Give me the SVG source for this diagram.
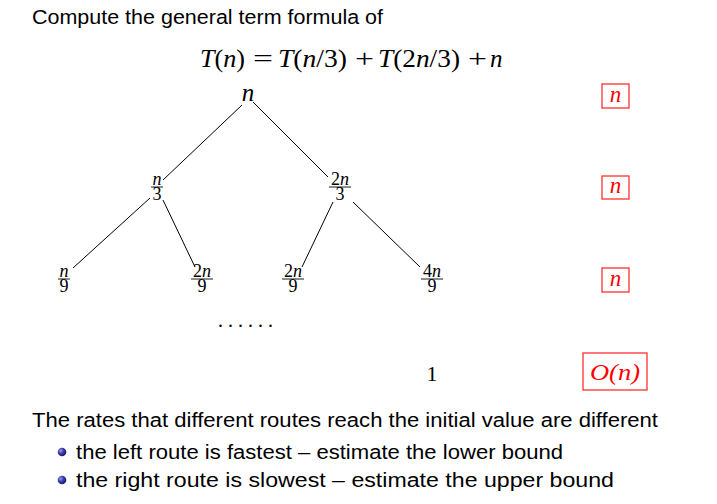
<svg xmlns="http://www.w3.org/2000/svg" width="717" height="504" viewBox="0 0 717 504">
<defs>
<radialGradient id="ball" cx="0.35" cy="0.35" r="0.7">
<stop offset="0" stop-color="#9a9ae6"/>
<stop offset="0.5" stop-color="#3b3ba8"/>
<stop offset="1" stop-color="#1a1a5a"/>
</radialGradient>
</defs>
<style>
.sans{font-family:"Liberation Sans",Arial,sans-serif;font-size:20px;fill:#000}
.m{font-family:"Liberation Serif","Times New Roman",serif;fill:#000}
.eq{font-size:25px}
.i{font-style:italic}
.fr{font-size:18px;text-anchor:middle}
.edge{stroke:#000;stroke-width:1;fill:none}
.bar{stroke:#000;stroke-width:0.9}
.box{fill:none;stroke:#ff3030;stroke-width:1.3}
.red{fill:#ff0000;font-family:"Liberation Serif","Times New Roman",serif;font-style:italic;text-anchor:middle}
</style>
<rect width="717" height="504" fill="#fff"/>
<text class="sans" x="32" y="24" textLength="351" lengthAdjust="spacingAndGlyphs">Compute the general term formula of</text>
<g id="equation">
<text class="m eq" x="200" y="67" textLength="45" lengthAdjust="spacingAndGlyphs"><tspan class="i">T</tspan>(<tspan class="i">n</tspan>)</text>
<text class="m eq" x="253" y="67" textLength="20" lengthAdjust="spacingAndGlyphs">=</text>
<text class="m eq" x="278" y="67" textLength="69" lengthAdjust="spacingAndGlyphs"><tspan class="i">T</tspan>(<tspan class="i">n</tspan>/3)</text>
<text class="m eq" x="355" y="67" textLength="19" lengthAdjust="spacingAndGlyphs">+</text>
<text class="m eq" x="378" y="67" textLength="82" lengthAdjust="spacingAndGlyphs"><tspan class="i">T</tspan>(2<tspan class="i">n</tspan>/3)</text>
<text class="m eq" x="468" y="67" textLength="19" lengthAdjust="spacingAndGlyphs">+</text>
<text class="m eq i" x="490" y="67">n</text>
</g>
<g id="connectors">
<line class="edge" x1="242" y1="105" x2="163" y2="180"/>
<line class="edge" x1="253" y1="102" x2="328" y2="177"/>
<line class="edge" x1="150" y1="198" x2="73" y2="268"/>
<line class="edge" x1="163" y1="200" x2="195" y2="267"/>
<line class="edge" x1="333" y1="202" x2="302" y2="267"/>
<line class="edge" x1="353" y1="202" x2="420" y2="267"/>
</g>
<g id="root"><text class="m i" x="248" y="101" font-size="25" text-anchor="middle">n</text></g>
<g id="n3">
<text class="m i fr" x="157" y="185">n</text>
<line class="bar" x1="151" y1="187" x2="163" y2="187"/>
<text class="m fr" x="157" y="200">3</text>
</g>
<g id="n23">
<text class="m fr" x="340" y="185">2<tspan class="i">n</tspan></text>
<line class="bar" x1="329" y1="187" x2="351" y2="187"/>
<text class="m fr" x="340" y="200">3</text>
</g>
<g id="n9">
<text class="m i fr" x="64" y="277">n</text>
<line class="bar" x1="58" y1="279" x2="70" y2="279"/>
<text class="m fr" x="64" y="292">9</text>
</g>
<g id="n29a">
<text class="m fr" x="202" y="277">2<tspan class="i">n</tspan></text>
<line class="bar" x1="191" y1="279" x2="213" y2="279"/>
<text class="m fr" x="202" y="292">9</text>
</g>
<g id="n29b">
<text class="m fr" x="293" y="277">2<tspan class="i">n</tspan></text>
<line class="bar" x1="282" y1="279" x2="304" y2="279"/>
<text class="m fr" x="293" y="292">9</text>
</g>
<g id="n49">
<text class="m fr" x="432" y="277">4<tspan class="i">n</tspan></text>
<line class="bar" x1="421" y1="279" x2="443" y2="279"/>
<text class="m fr" x="432" y="292">9</text>
</g>
<g id="dots"><text class="m" x="218" y="327" font-size="20" textLength="55" lengthAdjust="spacing">......</text></g>
<g id="leaf"><text class="m" x="432" y="381" font-size="22" text-anchor="middle">1</text></g>
<g id="cost1"><rect class="box" x="602" y="84" width="27" height="24"/><text class="red" x="615.5" y="102" font-size="23">n</text></g>
<g id="cost2"><rect class="box" x="602" y="176" width="27" height="23"/><text class="red" x="615.5" y="193" font-size="23">n</text></g>
<g id="cost3"><rect class="box" x="602" y="268" width="27" height="24"/><text class="red" x="615.5" y="286" font-size="23">n</text></g>
<g id="cost4"><rect class="box" x="583" y="353" width="64" height="37"/><text class="red" x="615" y="380" font-size="23" font-style="normal" textLength="50" lengthAdjust="spacingAndGlyphs"><tspan font-style="italic">O</tspan>(<tspan font-style="italic">n</tspan>)</text></g>
<text class="sans" x="32" y="427" textLength="626" lengthAdjust="spacingAndGlyphs">The rates that different routes reach the initial value are different</text>
<circle cx="62" cy="452" r="4.3" fill="url(#ball)"/>
<text class="sans" x="76" y="459" textLength="487" lengthAdjust="spacingAndGlyphs">the left route is fastest – estimate the lower bound</text>
<circle cx="62" cy="480" r="4.3" fill="url(#ball)"/>
<text class="sans" x="76" y="487" textLength="538" lengthAdjust="spacingAndGlyphs">the right route is slowest – estimate the upper bound</text>
</svg>
